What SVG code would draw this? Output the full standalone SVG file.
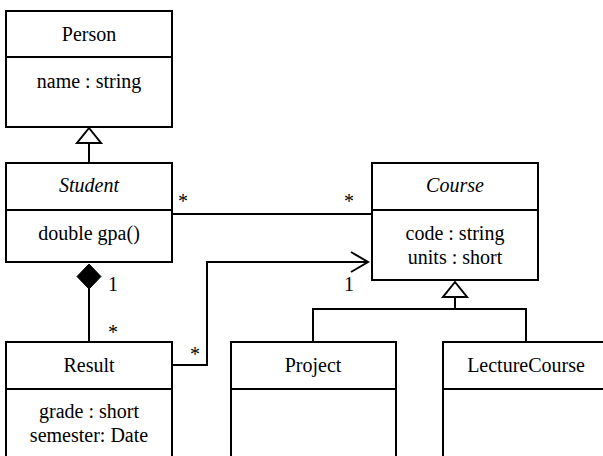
<svg xmlns="http://www.w3.org/2000/svg" width="603" height="456" viewBox="0 0 603 456" font-family="'Liberation Serif', 'DejaVu Serif', serif">
  <style>
    .box { fill: #ffffff; stroke: #000000; stroke-width: 2; }
    .div { stroke: #000000; stroke-width: 2; fill: none; }
    .edge { stroke: #000000; stroke-width: 2; fill: none; }
    .lbl { font-family: 'Liberation Serif', 'DejaVu Serif', serif; font-size: 20px; fill: #000000; text-anchor: middle; }
    .abstract { font-style: italic; }
  </style>
  <rect width="603" height="456" fill="#ffffff"/>

  <!-- connectors -->
  <g id="connectors">
    <!-- Student generalizes Person -->
    <line class="edge" x1="89" y1="143" x2="89" y2="163"/>
    <polygon class="edge" points="89,128 101,143 77,143" fill="#ffffff"/>
    <!-- Student * — * Course -->
    <line class="edge" x1="172" y1="214" x2="372" y2="214"/>
    <text class="lbl" x="183" y="208">*</text>
    <text class="lbl" x="349" y="208">*</text>
    <!-- Student ◆ Result composition -->
    <line class="edge" x1="89" y1="288" x2="89" y2="342"/>
    <polygon points="89,264 101,276.5 89,289 77,276.5" fill="#000000" stroke="#000000" stroke-width="1"/>
    <text class="lbl" x="113" y="291">1</text>
    <text class="lbl" x="113" y="339">*</text>
    <!-- Result → Course navigable association -->
    <polyline class="edge" points="172,365 207,365 207,262 368,262"/>
    <polyline class="edge" points="351,252 368,262 351,272"/>
    <text class="lbl" x="195" y="361">*</text>
    <text class="lbl" x="349" y="291">1</text>
    <!-- Project / LectureCourse generalize Course -->
    <polyline class="edge" points="313,342 313,309 526,309 526,342"/>
    <line class="edge" x1="455" y1="297" x2="455" y2="309"/>
    <polygon class="edge" points="455,282 467,297 443,297" fill="#ffffff"/>
  </g>

  <g id="person">
    <rect class="box" x="6" y="11" width="166" height="116"/>
    <line class="div" x1="6" y1="57" x2="172" y2="57"/>
    <text class="lbl" x="89" y="41">Person</text>
    <text class="lbl" x="89" y="88">name : string</text>
  </g>

  <g id="student">
    <rect class="box" x="6" y="163" width="166" height="99"/>
    <line class="div" x1="6" y1="210" x2="172" y2="210"/>
    <text class="lbl abstract" x="89" y="192">Student</text>
    <text class="lbl" x="89" y="240">double gpa()</text>
  </g>

  <g id="course">
    <rect class="box" x="372" y="163" width="166" height="117"/>
    <line class="div" x1="372" y1="210" x2="538" y2="210"/>
    <text class="lbl abstract" x="455" y="192">Course</text>
    <text class="lbl" x="455" y="240">code : string</text>
    <text class="lbl" x="455" y="264">units : short</text>
  </g>

  <g id="result">
    <rect class="box" x="6" y="342" width="166" height="130"/>
    <line class="div" x1="6" y1="389" x2="172" y2="389"/>
    <text class="lbl" x="89" y="372">Result</text>
    <text class="lbl" x="89" y="418">grade : short</text>
    <text class="lbl" x="89" y="442">semester: Date</text>
  </g>

  <g id="project">
    <rect class="box" x="231" y="342" width="165" height="130"/>
    <line class="div" x1="231" y1="389" x2="396" y2="389"/>
    <text class="lbl" x="313" y="372">Project</text>
  </g>

  <g id="lecture-course">
    <rect class="box" x="443" y="342" width="166" height="130"/>
    <line class="div" x1="443" y1="389" x2="609" y2="389"/>
    <text class="lbl" x="526" y="372">LectureCourse</text>
  </g>
</svg>
